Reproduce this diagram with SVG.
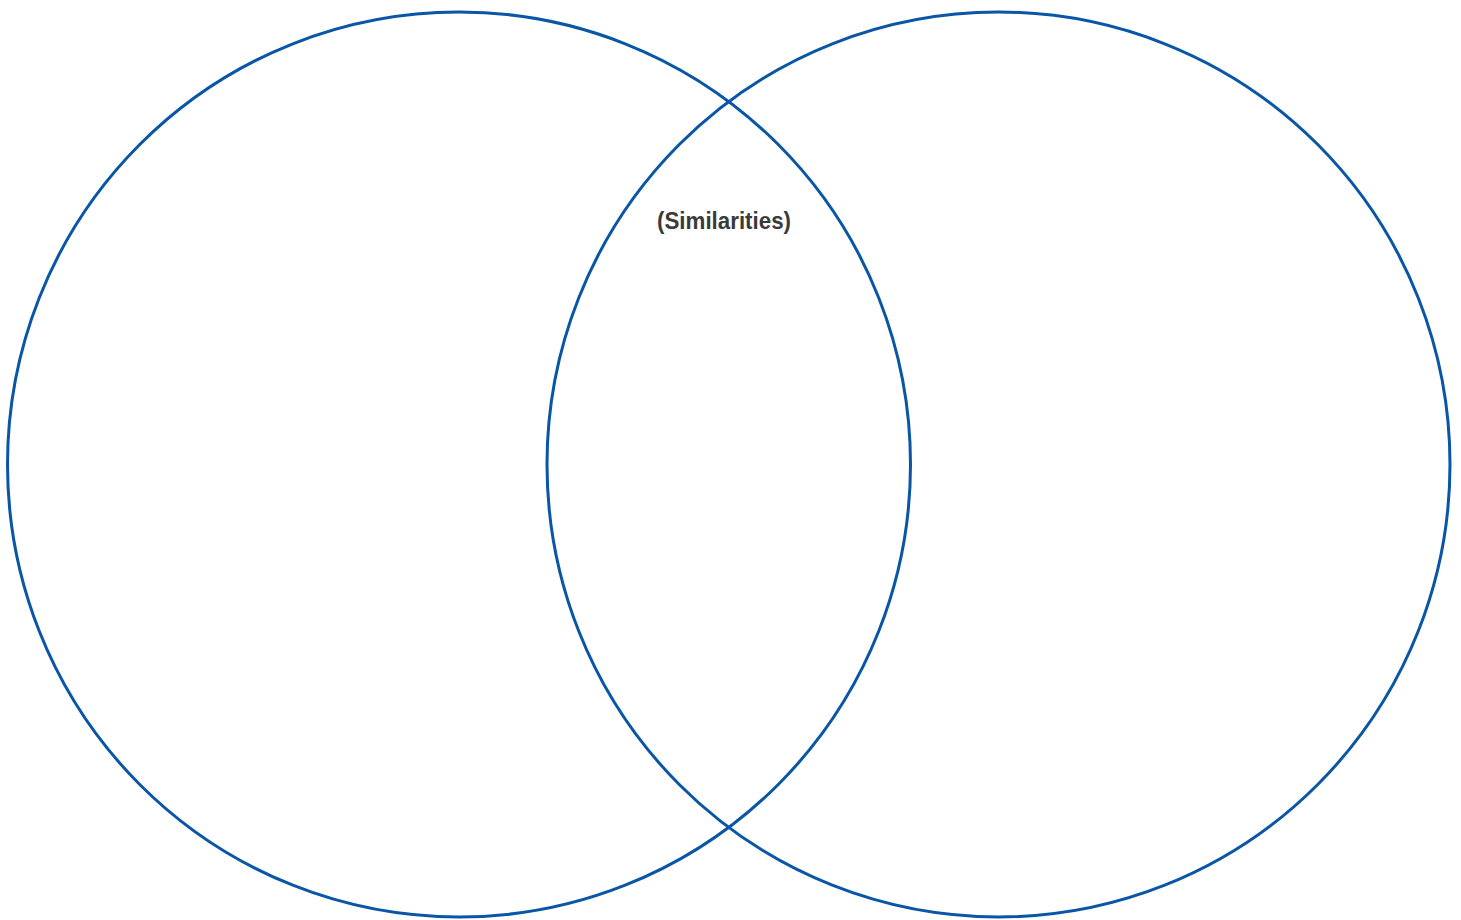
<svg xmlns="http://www.w3.org/2000/svg" width="1461" height="920" viewBox="0 0 1461 920">
<style>
.ring{fill:none;stroke:#0a56a6;stroke-width:3}
.lbl{font-family:"Liberation Sans Narrow","Liberation Sans",sans-serif;font-weight:bold;font-size:24px;fill:#3a3a3a}
</style>
<rect width="1461" height="920" fill="#fff"/>
<g id="circle-left"><ellipse class="ring" cx="459" cy="464.5" rx="451.5" ry="452.5"/></g>
<g id="circle-right"><ellipse class="ring" cx="998.5" cy="464.5" rx="451.5" ry="452.5"/></g>
<g id="label-similarities"><text class="lbl" x="657" y="229" textLength="134" lengthAdjust="spacingAndGlyphs">(Similarities)</text></g>
<g id="connectors"></g>
</svg>
